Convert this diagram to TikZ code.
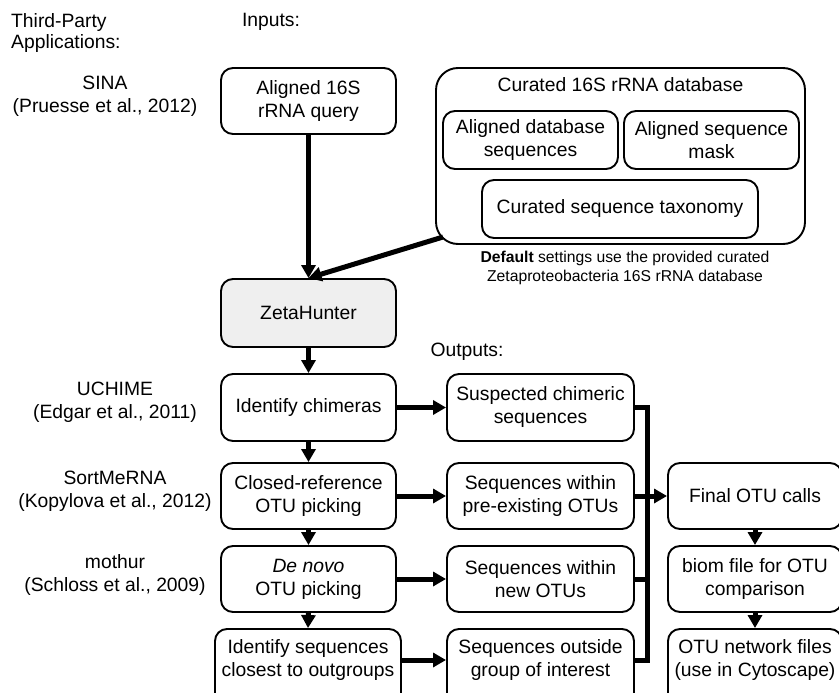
\documentclass[tikz,border=0pt]{standalone}
\usepackage{fontspec}
\setmainfont{Liberation Sans}
\usetikzlibrary{arrows.meta}
\definecolor{zhgray}{HTML}{EFEFEF}
\tikzset{
  boxnode/.style={draw, line width=1.9pt, rounded corners=12pt, align=center,
    inner sep=0pt, font=\fontsize{19.3}{23}\selectfont},
  lbl/.style={align=center, inner sep=0pt, font=\fontsize{19.3}{23}\selectfont},
  conn/.style={line width=5pt, -{Triangle[length=13pt,width=14pt]}},
  busline/.style={line width=5pt}
}
\begin{document}
\begin{tikzpicture}[x=1pt,y=-1pt]
\useasboundingbox (0,0) rectangle (839,693);
% left labels
\node[lbl, align=left, anchor=west, font=\fontsize{19.3}{21}\selectfont] (tp) at (11,33) {Third-Party\\Applications:};
\node[lbl] (inputs) at (271,22) {Inputs:};
\node[lbl] (outputs) at (467,352) {Outputs:};
\node[lbl] (sina) at (105,96.5) {SINA\\(Pruesse et al., 2012)};
\node[lbl] (uchime) at (115,402.5) {UCHIME\\(Edgar et al., 2011)};
\node[lbl] (sortme) at (115,491) {SortMeRNA\\(Kopylova et al., 2012)};
\node[lbl] (mothur) at (115,575) {mothur\\(Schloss et al., 2009)};
% inputs
\node[boxnode, minimum width=175pt, minimum height=66pt] (q) at (308.5,101) {Aligned 16S\\rRNA query};
\node[boxnode, minimum width=369pt, minimum height=176pt, rounded corners=22pt] (db) at (620.5,156) {};
\node[lbl] (dbt) at (620.5,85) {Curated 16S rRNA database};
\node[boxnode, minimum width=175pt, minimum height=58pt] (ads) at (530.5,140) {Aligned database\\sequences};
\node[boxnode, minimum width=175pt, minimum height=58pt] (asm) at (711.5,140) {Aligned sequence\\mask};
\node[boxnode, minimum width=276pt, minimum height=58pt] (cst) at (620,209) {Curated sequence taxonomy};
\node[lbl, font=\fontsize{15.7}{19}\selectfont] (dflt) at (625,267.5) {\textbf{Default} settings use the provided curated\\Zetaproteobacteria 16S rRNA database};
\coordinate (dbc) at (443,237);
% main column
\node[boxnode, fill=zhgray, minimum width=175pt, minimum height=68pt] (zh) at (308.5,313) {ZetaHunter};
\node[boxnode, minimum width=175pt, minimum height=67pt] (ic) at (308.5,407.5) {Identify chimeras};
\node[boxnode, minimum width=175pt, minimum height=66pt] (cr) at (308.5,496) {Closed-reference\\OTU picking};
\node[boxnode, minimum width=175pt, minimum height=66pt] (dn) at (308.5,579) {\textit{De novo}\\OTU picking};
\node[boxnode, minimum width=186pt, minimum height=80pt] (isc) at (308,669) {};
\node[lbl] (isct) at (308,660) {Identify sequences\\closest to outgroups};
% outputs
\node[boxnode, minimum width=187pt, minimum height=67pt] (sc) at (540.5,407.5) {Suspected chimeric\\sequences};
\node[boxnode, minimum width=187pt, minimum height=66pt] (pe) at (540.5,496) {Sequences within\\pre-existing OTUs};
\node[boxnode, minimum width=187pt, minimum height=66pt] (no) at (540.5,579) {Sequences within\\new OTUs};
\node[boxnode, minimum width=187pt, minimum height=80pt] (og) at (540.5,669) {};
\node[lbl] (ogt) at (540.5,660) {Sequences outside\\group of interest};
\node[boxnode, minimum width=174pt, minimum height=66pt] (fo) at (755,496) {Final OTU calls};
\node[boxnode, minimum width=174pt, minimum height=66pt] (biom) at (755,579) {biom file for OTU\\comparison};
\node[boxnode, minimum width=174pt, minimum height=80pt] (net) at (755,669) {};
\node[lbl] (nett) at (755,660) {OTU network files\\(use in Cytoscape)};
% connectors
\draw[conn] (q.south) -- (zh.north);
\draw[conn] (dbc) -- (zh.north);
\draw[conn] (zh.south) -- (ic.north);
\draw[conn] (ic.south) -- (cr.north);
\draw[conn] (cr.south) -- (dn.north);
\draw[conn] (dn.south) -- (isc.north);
\draw[conn] (ic.east) -- (sc.west);
\draw[conn] (cr.east) -- (pe.west);
\draw[conn] (dn.east) -- (no.west);
\draw[conn] (isct.east -| isc.east) -- (isct.east -| og.west);
\coordinate (busx) at (647,0);
\draw[busline] (sc.east) -- (sc.east -| busx) -- (ogt.east -| busx) -- (ogt.east -| og.east);
\draw[busline] (no.east) -- (no.east -| busx);
\draw[conn] (pe.east) -- (fo.west);
\draw[conn] (fo.south) -- (biom.north);
\draw[conn] (biom.south) -- (net.north);
\end{tikzpicture}
\end{document}
